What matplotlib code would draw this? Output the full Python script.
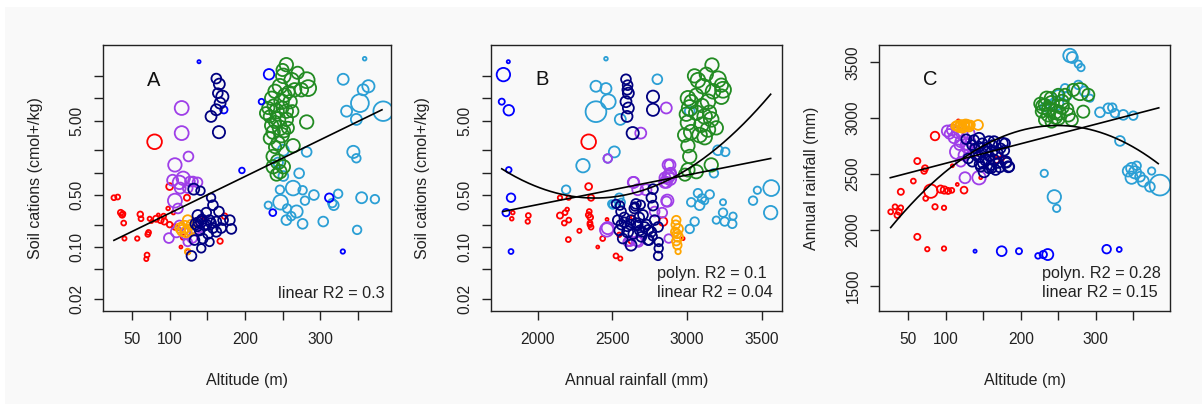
import numpy as np
import matplotlib
matplotlib.use("Agg")
import matplotlib.pyplot as plt
from matplotlib.patches import Rectangle
from matplotlib.ticker import FixedLocator, NullLocator

plt.rcParams['font.family'] = ['Liberation Sans', 'DejaVu Sans']

# ---------------- data: (x, y, weight) per site group ----------------
# Panel A: altitude (m) vs soil cations (cmol+/kg)
A_red = [(80, 2.6, 6), (26, 0.46, 2), (31, 0.47, 2), (35, 0.29, 2.3), (37, 0.27, 2.3), (38, 0.28, 2),
         (39, 0.21, 2), (40, 0.13, 1.7), (57, 0.13, 1.8), (61, 0.275, 2.3), (62, 0.24, 2), (71, 0.148, 2),
         (72, 0.157, 2), (73.5, 0.24, 1.7), (70, 0.078, 2), (69, 0.069, 1.7), (82, 0.24, 2.5), (88, 0.23, 2.5),
         (93, 0.22, 2.5), (100, 0.2, 2.3), (107, 0.186, 2.3), (98, 0.33, 1.5), (105, 0.29, 1.5), (92, 0.26, 2),
         (100, 0.65, 2.8), (123, 0.46, 2.5), (118, 0.135, 2), (115, 0.1, 1.2), (124, 0.086, 2), (145, 0.25, 1.2),
         (173, 0.26, 2.3), (167, 0.12, 2.2), (76, 0.22, 1.2), (85, 0.27, 1.2)]
A_purple = [(116, 7.4, 5.7), (116, 3.4, 5.7), (125, 1.65, 4), (107, 1.27, 5.5), (104, 0.79, 4.5), (113, 0.74, 5.5),
            (118, 0.84, 5.5), (114, 0.62, 4.5), (131, 0.76, 4), (137, 0.74, 4), (124, 0.62, 4), (127, 0.76, 4),
            (107, 0.42, 5.7), (111, 0.33, 4), (99, 0.132, 4), (109, 0.16, 4.5), (122, 0.15, 4.5), (130, 0.132, 4),
            (133, 0.167, 4), (140, 0.18, 3.5), (113, 0.195, 4), (124, 0.117, 3.5)]
A_orange = [(120, 0.186, 5), (124, 0.23, 4), (117, 0.167, 4.5), (127, 0.167, 4), (122, 0.16, 4.5), (129, 0.2, 4),
            (124, 0.087, 2.3), (114, 0.18, 4)]
A_navy = [(162, 18.4, 4), (166, 15.5, 4.5), (170, 10.5, 5), (167, 8.6, 4.5), (162, 7.0, 4.5), (155, 5.7, 4.5),
          (165.5, 3.5, 5), (164, 11.7, 4), (132, 0.6, 4.5), (141, 0.57, 3.5), (155, 0.46, 3.5),
          (157.5, 0.365, 4), (165.5, 0.3, 4), (148.6, 0.29, 4), (137.6, 0.265, 4.5), (142, 0.22, 4.5), (153, 0.23, 4),
          (162, 0.22, 4), (171, 0.23, 4), (180, 0.23, 4), (182, 0.175, 4), (168.5, 0.18, 4), (157.5, 0.18, 4),
          (146.5, 0.195, 4), (135, 0.205, 4.5), (140, 0.167, 4), (151, 0.15, 4), (162, 0.16, 4), (144, 0.13, 4),
          (133, 0.124, 4), (142, 0.096, 3.5), (129, 0.076, 4), (153, 0.117, 3.5), (137, 0.19, 4), (138, 0.215, 4),
          (143, 0.235, 4), (149, 0.2, 4), (155, 0.21, 4)]
A_blue = [(139, 31, 1.3), (196, 1.07, 2.3), (232, 21, 4.3), (222, 9, 2.3), (237, 0.29, 2.8), (312, 0.46, 3.5),
          (330, 0.087, 1.8), (172, 7.0, 3)]
A_green = [(255, 28.3, 5.5), (251, 20, 6), (262, 17.5, 6), (282, 17.5, 6.5), (284, 13.7, 6.5), (275, 13, 5.5),
           (266, 13, 5.5), (246.5, 14.5, 6), (240, 12.4, 5.5), (253, 11, 5.5), (235.5, 10, 5.5), (248.7, 9, 6),
           (260, 9, 5.5), (231, 7.4, 5), (242, 6.7, 6), (255, 6.7, 5.5), (263, 6.7, 5), (233, 5.7, 5), (244, 5.2, 6),
           (255, 5.2, 5.5), (282, 4.8, 5.5), (235.5, 4.3, 5.5), (246.5, 4.0, 6), (257, 4.0, 5), (237.5, 3.5, 5.5),
           (248.7, 3.2, 6), (233, 2.9, 5), (244, 2.5, 5.5), (264, 2.3, 5.5), (240, 2.2, 5), (237.5, 1.65, 5.5),
           (244, 1.4, 6), (237.5, 1.2, 5.5), (246.5, 1.03, 5.5), (242, 0.94, 5), (251, 1.2, 5.5), (250, 24, 5),
           (270, 22, 5), (238, 8, 5), (250, 7.5, 5), (240, 4.8, 5), (252, 3.6, 5), (228, 6.3, 5), (258, 12.2, 5)]
A_lblue = [(359, 34, 1.5), (330.5, 18, 4.5), (357, 13, 4.5), (364, 14.5, 5), (352.7, 8.6, 7.3), (383.6, 6.7, 8),
           (335, 6.7, 4.5), (348, 5.2, 4.5), (344, 1.9, 5), (348, 1.56, 3.5), (282, 1.9, 4), (251, 2.0, 4.5),
           (244, 1.37, 4), (272, 0.98, 4), (246.5, 0.59, 3.5), (264, 0.62, 6), (276.6, 0.58, 3.5), (291.6, 0.5, 4),
           (323.8, 0.52, 3.5), (355, 0.46, 4.5), (372.6, 0.44, 3.5), (279.7, 0.42, 3.5), (231, 0.365, 3),
           (247.3, 0.4, 6), (256, 0.33, 3.5), (268.6, 0.3, 5), (255, 0.23, 4), (261.5, 0.26, 3.5), (276.6, 0.205, 4),
           (304, 0.22, 4), (318, 0.365, 4), (316, 0.39, 3.5), (349, 0.17, 3.5), (251, 0.9, 4)]

# Panel B: annual rainfall (mm) vs soil cations (cmol+/kg)
B_red = [(2341, 2.6, 6), (2341, 0.65, 2.8), (2149, 0.46, 1.8), (2207, 0.46, 1.8), (2357, 0.46, 2.5),
         (1833, 0.29, 1.5), (1826, 0.24, 1.5), (1937, 0.265, 2), (1933, 0.22, 1.8), (2149, 0.265, 2.5),
         (2183, 0.29, 2), (2197, 0.32, 1.5), (2208, 0.23, 2), (2178, 0.21, 2), (2279, 0.165, 1.7), (2205, 0.126, 2),
         (2341, 0.27, 2.3), (2352, 0.25, 2.3), (2350, 0.21, 2), (2357, 0.185, 2), (2464, 0.235, 1.2),
         (2402, 0.1, 1.2), (2435, 0.13, 2), (2524, 0.076, 2), (2553, 0.07, 1.7), (2625, 0.12, 2),
         (2546, 0.146, 1.8), (2636, 0.25, 1.5), (2839, 0.22, 3.5), (2973, 0.13, 1.3), (2350, 0.2, 2), (2345, 0.3, 2)]
B_purple = [(2469, 1.55, 3.5), (2643, 0.74, 4.5), (2690, 3.4, 4.5), (2861, 7.4, 4.5), (2873, 1.27, 4.5),
            (2884, 0.94, 5), (2875, 0.88, 5), (2890, 0.98, 4.5), (2850, 0.74, 4.5), (2868, 0.42, 5), (2783, 0.3, 4),
            (2877, 0.13, 3.5), (2640, 0.74, 4.5), (2670, 0.59, 4.5), (2725, 0.59, 4.5), (2863, 0.41, 4),
            (2462, 0.17, 5.5), (2618, 0.12, 4), (2674, 0.117, 4), (2469, 0.18, 5), (2602, 0.117, 3.5),
            (2665, 0.12, 4), (2834, 0.29, 4), (2886, 1.27, 4.5), (2852, 0.85, 4.5), (2886, 0.82, 5), (2862, 0.74, 4.5)]
B_orange = [(2928, 0.23, 3.5), (2924, 0.2, 3.5), (2940, 0.175, 4), (2921, 0.16, 3.5), (2940, 0.137, 4),
            (2928, 0.12, 3.5), (2935, 0.106, 3.5), (2940, 0.087, 2.2), (2932, 0.15, 3.5)]
B_navy = [(2591, 18, 4), (2602, 15, 4), (2607, 11.7, 4.5), (2591, 9, 4.5), (2607, 7.4, 4.5), (2598, 5.7, 4.5),
          (2636, 3.4, 5), (2772, 10.5, 5), (2772, 7, 5), (2600, 13, 4),
          (2524, 0.38, 3.5), (2558, 0.3, 4), (2536, 0.23, 4), (2580, 0.215, 4), (2625, 0.23, 4), (2647, 0.33, 4),
          (2670, 0.195, 4), (2546, 0.167, 4), (2602, 0.16, 4.5), (2569, 0.13, 4), (2625, 0.106, 4.5),
          (2658, 0.38, 4), (2772, 0.6, 4), (2761, 0.46, 4), (2772, 0.36, 4), (2705, 0.27, 4), (2783, 0.23, 4),
          (2716, 0.186, 4), (2683, 0.167, 4), (2761, 0.16, 4), (2806, 0.186, 4), (2739, 0.124, 4),
          (2810, 0.117, 3.5), (2810, 0.096, 3.5), (2806, 0.076, 3.5), (2660, 0.21, 4), (2694, 0.137, 4),
          (2690, 0.37, 3.5), (2651, 0.35, 3.5), (2551, 0.36, 3.5), (2745, 0.124, 4), (2600, 0.19, 4),
          (2640, 0.15, 4), (2700, 0.16, 4), (2730, 0.2, 4), (2620, 0.2, 4), (2680, 0.25, 4), (2740, 0.17, 4),
          (2770, 0.14, 3.5), (2580, 0.25, 4), (2560, 0.2, 4)]
B_blue = [(1803, 31, 1.3), (1770, 20.8, 5.5), (1759, 9, 2.5), (1806, 6.9, 4.3), (1806, 1.09, 2.3),
          (1821, 0.46, 3.5), (1788, 0.29, 3), (1821, 0.087, 2)]
B_green = [(3167, 28, 5.5), (3129, 21, 5.5), (3073, 17.5, 6), (3207, 18, 6.5), (3241, 13, 6.5), (3230, 10.5, 6),
           (3006, 10, 6), (3062, 11, 5.5), (3140, 9, 6), (3018, 7.4, 6.5), (3062, 6.4, 6), (3118, 5.7, 6),
           (3162, 5.2, 6), (3006, 4.7, 6), (3096, 4.4, 6), (3140, 3.8, 6), (3028, 3.5, 6), (3084, 3.2, 6),
           (3118, 3.0, 6), (3006, 2.3, 5.5), (3018, 1.65, 5.5), (3006, 1.09, 5.5), (3062, 1.03, 5.5),
           (3162, 1.27, 5.5), (2984, 3.2, 5.5), (3174, 12.4, 6), (3107, 14.5, 6), (3028, 9, 5.5), (3196, 4, 5.5),
           (2995, 6.1, 5.5), (2986, 0.94, 5), (3050, 20, 5.5), (3100, 8, 5.5), (3150, 6.5, 5.5), (3230, 15, 5.5)]
B_lblue = [(2457, 34, 1.5), (2390, 14.5, 4.5), (2457, 13.5, 4.5), (2473, 9, 6), (2390, 6.6, 8.5), (2553, 5.2, 4.5),
           (2513, 1.9, 4.5), (2469, 1.55, 3.5), (2303, 1.24, 5.5), (2190, 0.59, 3.5), (2546, 0.46, 3.5),
           (2502, 0.365, 3), (2801, 18, 4), (3018, 6.7, 4), (3207, 2, 4), (3256, 1.9, 3.5), (3180, 0.98, 3.5),
           (3073, 0.53, 3.5), (3152, 0.51, 3.5), (3028, 0.4, 3.5), (3084, 0.365, 4), (3118, 0.42, 3),
           (3241, 0.4, 2.5), (3241, 0.29, 3.5), (3308, 0.26, 3), (3252, 0.22, 3.5), (3303, 0.205, 3.5),
           (3051, 0.22, 3.5), (3018, 0.175, 3.5), (3196, 0.23, 3), (3564, 0.62, 6.5), (3471, 0.58, 3),
           (3442, 0.42, 3.5), (3560, 0.29, 5.5), (2495, 0.38, 3), (2560, 0.4, 3), (3100, 0.45, 3.5)]

# Panel C: altitude (m) vs annual rainfall (mm)
C_red = [(116.7, 2976, 1.2), (85.6, 2841, 3.5), (62, 2617, 2.5), (72.3, 2552, 2.5), (71, 2528, 2.3),
         (108.7, 2575, 1.2), (56.7, 2438, 2), (40, 2342, 2.5), (80, 2348, 5.5), (93, 2366, 3), (98, 2358, 3),
         (103, 2350, 2.5), (108, 2355, 2), (124.3, 2357, 2.8), (115.3, 2408, 1.2), (73.2, 2283, 2),
         (85.6, 2208, 2.2), (97.6, 2199, 1.8), (32.3, 2208, 2), (39.9, 2199, 2), (26.5, 2163, 2), (37.6, 2163, 2.3),
         (35.3, 2133, 2.3), (62, 1939, 2.5), (75.3, 1829, 1.8), (97.6, 1835, 1.8), (146.5, 2468, 1.2),
         (167.4, 2626, 2.5), (174.5, 2641, 2)]
C_purple = [(102, 2886, 4.5), (108.7, 2895, 4.5), (115.3, 2874, 4.5), (122, 2856, 4.5), (111, 2826, 4.5),
            (120, 2790, 4.5), (127.3, 2767, 4.5), (133, 2790, 4), (115.3, 2700, 6), (124.3, 2671, 4.5),
            (120, 2611, 4), (125.6, 2468, 4.5), (144.3, 2468, 5.5), (131, 2866, 4.5), (137.6, 2700, 4),
            (105, 2860, 4), (128, 2740, 4.5), (118, 2760, 4)]
C_orange = [(116, 2935, 4), (120, 2940, 4), (124, 2930, 4.5), (128, 2943, 4), (131, 2925, 4), (122, 2915, 4),
            (118, 2920, 4), (126, 2950, 3.5), (133, 2940, 3.5), (143, 2940, 4), (113, 2930, 3.5), (125, 2925, 4),
            (129, 2935, 4)]
C_navy = [(127.3, 2812, 4), (137.6, 2805, 4), (144.3, 2820, 4.5), (157.6, 2790, 4.5), (164.3, 2790, 4.5),
          (175.4, 2776, 4.5), (144.3, 2745, 4), (153.2, 2700, 4.5), (162, 2707, 4.5), (168.6, 2686, 4.5),
          (144.3, 2656, 4.5), (153.2, 2626, 4.5), (164.3, 2626, 4.5), (180, 2611, 4.5), (183.4, 2566, 4.5),
          (146.5, 2566, 4), (157.6, 2552, 4), (151, 2521, 4.5), (166.5, 2537, 4), (135.3, 2611, 4), (140, 2671, 4),
          (148.7, 2776, 4), (173, 2731, 4), (130, 2640, 4), (150, 2600, 4.5), (160, 2580, 4), (170, 2600, 4),
          (158, 2660, 4), (148, 2690, 4), (135, 2760, 4), (172, 2560, 4), (145, 2590, 4), (155, 2740, 4),
          (178, 2710, 4), (139, 2730, 4), (162, 2760, 4), (179, 2776, 4), (184.7, 2566, 4), (181, 2602, 4),
          (161, 2554, 4)]
C_blue = [(139, 1811, 1.3), (174.5, 1811, 4), (197.6, 1811, 2.5), (223, 1769, 2.3), (230, 1781, 3),
          (236, 1781, 4.5), (314.5, 1829, 3.5), (331.3, 1826, 2)]
C_green = [(230, 3104, 6), (234.5, 3179, 5.5), (241.2, 3134, 6), (236.7, 3030, 5.5), (245.6, 3059, 6),
           (254.5, 3104, 6), (250, 3000, 5.5), (263.3, 3030, 5.5), (259, 3209, 5), (279, 3238, 7), (290, 3209, 5),
           (283.3, 3059, 5), (232.3, 2985, 5), (268, 2985, 5), (241, 2970, 5), (250, 3209, 5), (270, 3253, 5),
           (228, 3060, 5), (238, 3080, 6), (246, 3010, 5.5), (255, 3150, 5.5), (262, 3080, 5), (226, 3130, 5),
           (240, 3180, 5), (250, 3050, 6), (232, 3120, 5)]
C_lblue = [(265.6, 3561, 5.5), (268.7, 3543, 4.5), (276.7, 3484, 3), (280.3, 3453, 3), (250, 3209, 4),
           (247.8, 3134, 5.5), (259, 3268, 3.5), (276.7, 3298, 3.5), (292.3, 3179, 3), (305.6, 3053, 4),
           (316.7, 3089, 4), (322, 3095, 3.5), (325.6, 3045, 3.5), (336.7, 3030, 4), (350, 3023, 3.5),
           (332.3, 2797, 4), (347.8, 2552, 4.5), (354.5, 2575, 3.5), (343.3, 2528, 4.5), (352.3, 2516, 5),
           (359, 2477, 4), (347.8, 2468, 5), (363.3, 2438, 4.5), (374.5, 2528, 3), (385.6, 2402, 8.5),
           (372.2, 2387, 4), (231.3, 2507, 3), (244.7, 2297, 5.5), (247.8, 2194, 3), (240, 3120, 4),
           (232, 3100, 3.5), (262, 3200, 3.5), (285, 3240, 4)]

# fitted curves
A_lin = [(26, 0.123), (382, 7.0)]
B_lin = [(1766, 0.30), (3560, 1.55)]
B_poly = [(1759, 1.14), (1910, 0.84), (2044, 0.62), (2156, 0.48), (2245, 0.46), (2469, 0.44), (2692, 0.48),
          (2806, 0.60), (2895, 0.81), (3006, 1.2), (3118, 1.9), (3230, 3.0), (3341, 4.7), (3453, 6.4), (3560, 8.3)]
C_lin = [(26, 2468), (384, 3093)]
C_poly = [(26.5, 2044), (55.3, 2223), (77.6, 2373), (99.9, 2521), (119.9, 2641), (144.3, 2731), (166.5, 2806),
          (188.7, 2875), (211.1, 2916), (250, 2946), (285.6, 2910), (316.7, 2835), (347.9, 2731), (383.3, 2611)]

alt_ticks = [50, 100, 150, 200, 250, 300, 350]
alt_labels = ['50', '100', '', '200', '', '300', '']
cat_ticks = [0.02, 0.05, 0.1, 0.2, 0.5, 1, 2, 5, 10, 20]
cat_labels = ['0.02', '', '0.10', '', '0.50', '', '', '5.00', '', '']
rain_ticks = [2000, 2500, 3000, 3500]
rainy_ticks = [1500, 2000, 2500, 3000, 3500]

COLORS = {'lblue': '#2b9fd5', 'green': '#228b22', 'blue': '#0000ff', 'red': '#ff0000',
          'purple': '#9f3fe8', 'orange': '#ffa500', 'navy': '#000080'}
ORDER = ['lblue', 'green', 'blue', 'red', 'purple', 'orange', 'navy']
SIZE_SCALE = 1.22  # weight -> marker radius factor

fig = plt.figure(figsize=(12.02, 4.04), dpi=100)
fig.patch.set_facecolor('white')
fig.patches.append(Rectangle((5 / 1202, 0), 1, (404 - 7) / 404, transform=fig.transFigure,
                             facecolor='#f9f9f9', edgecolor='none', zorder=-10))

W, H = 1202, 404


def make_ax(left, width):
    ax = fig.add_axes([left / W, 93 / H, width / W, 266 / H])
    ax.set_facecolor('none')
    for sp in ax.spines.values():
        sp.set_linewidth(1.0)
        sp.set_color('#222222')
    ax.tick_params(direction='out', length=6.5, width=1.0, color='#222222', labelsize=11.2,
                   labelcolor='#222222')
    ax.tick_params(axis='x', pad=8.5)
    ax.tick_params(axis='y', pad=7)
    return ax


def scatter_groups(ax, groups):
    for name in ORDER:
        pts = groups.get(name)
        if not pts:
            continue
        x, y, w = (np.array(v, dtype=float) for v in zip(*pts))
        ax.scatter(x, y, s=(1.44 * SIZE_SCALE * w) ** 2, facecolors='none', edgecolors=COLORS[name],
                   linewidths=1.3, zorder=2)


def style_y(ax):
    for lab in ax.get_yticklabels():
        lab.set_rotation(90)
        lab.set_va('center')
        lab.set_ha('right')


def fit_line(ax, pts, deg, logy=False):
    x, y = (np.array(v, dtype=float) for v in zip(*pts))
    yy = np.log10(y) if logy else y
    coef = np.polyfit(x, yy, deg)
    xs = np.linspace(x.min(), x.max(), 200)
    ys = np.polyval(coef, xs)
    if logy:
        ys = 10 ** ys
    ax.plot(xs, ys, color='black', lw=1.2, zorder=3)


def labels(ax, xl, yl):
    ax.set_xlabel(xl, fontsize=11.5, va='center', color='#222222')
    ax.xaxis.set_label_coords(0.5, -0.262)
    ax.set_ylabel(yl, fontsize=11.5, va='center', ha='center', color='#222222')
    ax.yaxis.set_label_coords(-0.234, 0.5)


TXT = dict(fontsize=11.7, ha='left', va='baseline', color='#222222')
LET = dict(fontsize=14.5, ha='left', va='baseline', color='#111111')

# ---- Panel A ----
axA = make_ax(103, 288)
axA.set_yscale('log')
scatter_groups(axA, {'lblue': A_lblue, 'green': A_green, 'blue': A_blue, 'red': A_red,
                     'purple': A_purple, 'orange': A_orange, 'navy': A_navy})
fit_line(axA, A_lin, 1, logy=True)
axA.set_xlim(11.5, 394)
axA.set_ylim(0.0138, 52)
axA.xaxis.set_major_locator(FixedLocator(alt_ticks))
axA.set_xticklabels(alt_labels)
axA.yaxis.set_major_locator(FixedLocator(cat_ticks))
axA.yaxis.set_minor_locator(NullLocator())
axA.set_yticklabels(cat_labels)
style_y(axA)
labels(axA, 'Altitude (m)', 'Soil cations (cmol+/kg)')
axA.text(0.153, 0.846, 'A', transform=axA.transAxes, **LET)
axA.text(0.609, 0.049, 'linear R2 = 0.3', transform=axA.transAxes, **TXT)

# ---- Panel B ----
axB = make_ax(491, 291)
axB.set_yscale('log')
scatter_groups(axB, {'lblue': B_lblue, 'green': B_green, 'blue': B_blue, 'red': B_red,
                     'purple': B_purple, 'orange': B_orange, 'navy': B_navy})
fit_line(axB, B_lin, 1, logy=True)
fit_line(axB, B_poly, 2, logy=True)
axB.set_xlim(1687, 3636)
axB.set_ylim(0.0138, 52)
axB.xaxis.set_major_locator(FixedLocator(rain_ticks))
axB.set_xticklabels([str(t) for t in rain_ticks])
axB.yaxis.set_major_locator(FixedLocator(cat_ticks))
axB.yaxis.set_minor_locator(NullLocator())
axB.set_yticklabels(cat_labels)
style_y(axB)
labels(axB, 'Annual rainfall (mm)', 'Soil cations (cmol+/kg)')
axB.text(0.153, 0.85, 'B', transform=axB.transAxes, **LET)
axB.text(0.571, 0.123, 'polyn. R2 = 0.1', transform=axB.transAxes, **TXT)
axB.text(0.571, 0.054, 'linear R2 = 0.04', transform=axB.transAxes, **TXT)

# ---- Panel C ----
axC = make_ax(879.3, 290.7)
scatter_groups(axC, {'lblue': C_lblue, 'green': C_green, 'blue': C_blue, 'red': C_red,
                     'purple': C_purple, 'orange': C_orange, 'navy': C_navy})
fit_line(axC, C_lin, 1)
fit_line(axC, C_poly, 3)
axC.set_xlim(11.3, 399)
axC.set_ylim(1276, 3655)
axC.xaxis.set_major_locator(FixedLocator(alt_ticks))
axC.set_xticklabels(alt_labels)
axC.yaxis.set_major_locator(FixedLocator(rainy_ticks))
axC.set_yticklabels([str(t) for t in rainy_ticks])
style_y(axC)
labels(axC, 'Altitude (m)', 'Annual rainfall (mm)')
axC.text(0.152, 0.85, 'C', transform=axC.transAxes, **LET)
axC.text(0.559, 0.123, 'polyn. R2 = 0.28', transform=axC.transAxes, **TXT)
axC.text(0.559, 0.054, 'linear R2 = 0.15', transform=axC.transAxes, **TXT)

fig.savefig('out.png', dpi=100, facecolor=fig.get_facecolor())
